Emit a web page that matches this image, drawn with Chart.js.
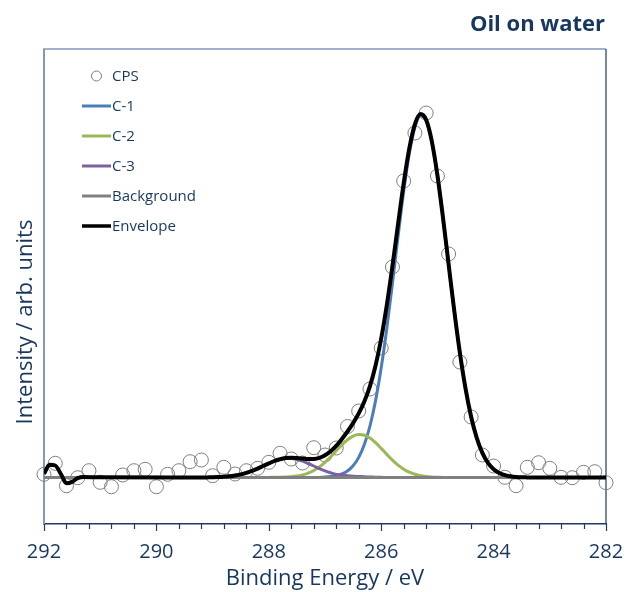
<!DOCTYPE html>
<html><head><meta charset="utf-8">
<script src="https://cdn.jsdelivr.net/npm/chart.js@4.4.1/dist/chart.umd.min.js"></script>
<style>html,body{margin:0;padding:0;background:#fff;} #wrap{width:640px;height:592px;position:relative;}</style>
</head><body><div id="wrap"><canvas id="c" width="640" height="592"></canvas></div>
<script>
const titleText = 'Oil on water';
const xTitle = 'Binding Energy / eV';
const yTitle = 'Intensity / arb. units';
const seriesNames = ['CPS', 'C-1', 'C-2', 'C-3', 'Background', 'Envelope'];
const xTickMajor = [292, 290, 288, 286, 284, 282];

const cpsEnergy = [292.0, 291.8, 291.6, 291.4, 291.2, 291.0, 290.8, 290.6, 290.4, 290.2, 290.0,
  289.8, 289.6, 289.4, 289.2, 289.0, 288.8, 288.6, 288.4, 288.2, 288.0,
  287.8, 287.6, 287.4, 287.2, 287.0, 286.8, 286.6, 286.4, 286.2, 286.0,
  285.8, 285.6, 285.4, 285.2, 285.0, 284.8, 284.6, 284.4, 284.2, 284.0,
  283.8, 283.6, 283.4, 283.2, 283.0, 282.8, 282.6, 282.4, 282.2, 282.0];
const cpsCounts = [497, 607, 383, 463, 533, 417, 373, 490, 533, 547, 373,
  497, 533, 623, 640, 483, 567, 500, 533, 557, 617,
  707, 650, 610, 763, 690, 760, 975, 1130, 1350, 1760,
  2570, 3430, 3910, 4110, 3480, 2700, 1620, 1070, 690, 580,
  467, 383, 567, 613, 557, 467, 463, 517, 523, 413];

const c1Energy = [292.0, 287.3, 287.2, 287.1, 287.0, 286.9, 286.8, 286.7, 286.6, 286.5, 286.4,
  286.3, 286.2, 286.1, 286.0, 285.9, 285.8, 285.7, 285.6, 285.5, 285.4,
  285.3, 285.2, 285.1, 285.0, 284.9, 284.8, 284.7, 284.6, 284.5, 284.4,
  284.3, 284.2, 284.1, 284.0, 283.9, 283.8, 283.7, 283.6, 283.5, 283.4, 283.3, 282.0];
const c1Counts = [465, 465, 465, 466, 469, 474, 483, 500, 530, 582, 666,
  795, 980, 1234, 1562, 1958, 2406, 2876, 3324, 3703, 3967,
  4082, 4032, 3824, 3487, 3061, 2594, 2133, 1712, 1356, 1073,
  861, 711, 611, 548, 510, 488, 477, 470, 467, 466, 465, 465];

const c2Energy = [292.0, 288.1, 288.0, 287.9, 287.8, 287.7, 287.6, 287.5, 287.4, 287.3, 287.2,
  287.1, 287.0, 286.9, 286.8, 286.7, 286.6, 286.5, 286.4, 286.3, 286.2,
  286.1, 286.0, 285.9, 285.8, 285.7, 285.6, 285.5, 285.4, 285.3, 285.2,
  285.1, 285.0, 284.9, 282.0];
const c2Counts = [465, 465, 466, 467, 468, 470, 473, 479, 491, 509, 535,
  571, 617, 672, 732, 791, 842, 879, 895, 888, 859,
  813, 756, 696, 638, 588, 548, 518, 497, 483, 475,
  470, 467, 465, 465];

const c3Energy = [292.0, 289.1, 289.0, 288.9, 288.8, 288.7, 288.6, 288.5, 288.4, 288.3, 288.2,
  288.1, 288.0, 287.9, 287.8, 287.7, 287.6, 287.5, 287.4, 287.3, 287.2,
  287.1, 287.0, 286.9, 286.8, 286.7, 286.6, 286.5, 286.4, 286.3, 286.2,
  286.1, 286.0, 285.9, 282.0];
const c3Counts = [465, 465, 467, 469, 472, 477, 485, 496, 512, 531, 554,
  580, 605, 628, 645, 654, 654, 645, 628, 605, 580,
  554, 531, 512, 496, 489, 483, 478, 475, 472, 470,
  468, 467, 465, 465];

const bgEnergy = [292.0, 282.0];
const bgCounts = [465, 465];

const envEnergy = [292.0, 291.9, 291.8, 291.7, 291.6, 291.5, 291.4, 291.3, 291.0, 289.3,
  289.2, 289.1, 289.0, 288.9, 288.8, 288.7, 288.6, 288.5, 288.4, 288.3,
  288.2, 288.1, 288.0, 287.9, 287.8, 287.7, 287.6, 287.5, 287.4, 287.3,
  287.2, 287.1, 287.0, 286.9, 286.8, 286.7, 286.6, 286.5, 286.4, 286.3,
  286.2, 286.1, 286.0, 285.9, 285.8, 285.7, 285.6, 285.5, 285.4, 285.3,
  285.2, 285.1, 285.0, 284.9, 284.8, 284.7, 284.6, 284.5, 284.4, 284.3,
  284.2, 284.1, 284.0, 283.9, 283.8, 283.7, 283.6, 283.5, 283.4, 283.3, 282.0];
const envCounts = [502, 592, 585, 500, 408, 422, 458, 470, 467, 465,
  465, 466, 467, 469, 472, 477, 485, 496, 512, 531,
  554, 580, 606, 630, 648, 659, 662, 659, 654, 649,
  650, 661, 687, 728, 781, 850, 925, 1009, 1106, 1225,
  1379, 1585, 1855, 2189, 2579, 2999, 3407, 3756, 3999, 4100,
  4042, 3829, 3489, 3061, 2594, 2133, 1712, 1356, 1073, 861,
  711, 611, 548, 510, 488, 477, 470, 467, 466, 465, 465];

const TEXT = '#17375e';
const NAVY = '#1f3864';
const STEEL = '#8299bb';
const FONT = "'Open Sans', 'Noto Sans', sans-serif";
const colors = { cps: '#7f7f7f', c1: '#4a7ebb', c2: '#98b954', c3: '#7d60a0', bg: '#808080', env: '#000000' };

function pts(xs, ys) { return xs.map((x, i) => ({ x: x, y: ys[i] })); }

const lineDs = (label, xs, ys, color, width, order) => ({
  label, data: pts(xs, ys), showLine: true, borderColor: color, backgroundColor: color,
  borderWidth: width, pointRadius: 0, cubicInterpolationMode: 'monotone', order
});

const decor = {
  id: 'decor',
  beforeDatasetsDraw(chart) {
    const ctx = chart.ctx, a = chart.chartArea;
    ctx.save();
    ctx.lineWidth = 2; ctx.strokeStyle = STEEL;
    ctx.beginPath(); ctx.moveTo(a.left, a.bottom); ctx.lineTo(a.left, a.top); ctx.stroke();
    ctx.lineWidth = 1.5;
    ctx.beginPath(); ctx.moveTo(a.left - 1, a.top); ctx.lineTo(a.right, a.top); ctx.stroke();
    ctx.lineWidth = 1.2; ctx.strokeStyle = NAVY;
    ctx.beginPath(); ctx.moveTo(a.right, a.top); ctx.lineTo(a.right, a.bottom); ctx.stroke();
    ctx.restore();
  },
  afterDraw(chart) {
    const ctx = chart.ctx, a = chart.chartArea, sx = chart.scales.x;
    ctx.save();
    // x ticks
    ctx.lineWidth = 1.2; ctx.strokeStyle = NAVY;
    sx.ticks.forEach(t => {
      const px = Math.round(sx.getPixelForValue(t.value)) + 0.5;
      const major = Math.abs(t.value / 2 - Math.round(t.value / 2)) < 1e-6;
      ctx.beginPath(); ctx.moveTo(px, a.bottom); ctx.lineTo(px, a.bottom + (major ? 7 : 5)); ctx.stroke();
    });
    // titles
    ctx.fillStyle = TEXT;
    ctx.font = 'bold 22px ' + FONT; ctx.textAlign = 'right'; ctx.textBaseline = 'alphabetic';
    ctx.fillText(titleText, 605, 31);
    ctx.font = '22px ' + FONT; ctx.textAlign = 'center';
    ctx.fillText(xTitle, (a.left + a.right) / 2, 585);
    ctx.save(); ctx.translate(32, 322); ctx.rotate(-Math.PI / 2);
    ctx.fillText(yTitle, 0, 0); ctx.restore();
    // legend
    const lx = 82, tx = 112, ly0 = 76, step = 30;
    ctx.font = '15px ' + FONT; ctx.textAlign = 'left'; ctx.textBaseline = 'middle';
    const leg = [
      { name: seriesNames[0], type: 'pt', color: colors.cps },
      { name: seriesNames[1], color: colors.c1, w: 3 },
      { name: seriesNames[2], color: colors.c2, w: 3 },
      { name: seriesNames[3], color: colors.c3, w: 3 },
      { name: seriesNames[4], color: colors.bg, w: 3 },
      { name: seriesNames[5], color: colors.env, w: 3.5 }
    ];
    leg.forEach((it, i) => {
      const y = ly0 + i * step;
      if (it.type === 'pt') {
        ctx.lineWidth = 1; ctx.strokeStyle = it.color;
        ctx.beginPath(); ctx.arc(96.5, y, 5, 0, Math.PI * 2); ctx.stroke();
      } else {
        ctx.lineWidth = it.w; ctx.strokeStyle = it.color;
        ctx.beginPath(); ctx.moveTo(lx, y); ctx.lineTo(tx - 1, y); ctx.stroke();
      }
      ctx.fillStyle = TEXT; ctx.fillText(it.name, tx, y + 1);
    });
    ctx.restore();
  }
};

new Chart(document.getElementById('c'), {
  type: 'scatter',
  data: {
    datasets: [
      { label: seriesNames[0], data: pts(cpsEnergy, cpsCounts), showLine: false, pointStyle: 'circle',
        pointRadius: 7, pointBorderWidth: 1, pointBorderColor: colors.cps,
        pointBackgroundColor: 'rgba(255,255,255,0)', order: 5, clip: false },
      lineDs(seriesNames[1], c1Energy, c1Counts, colors.c1, 3, 4),
      lineDs(seriesNames[2], c2Energy, c2Counts, colors.c2, 3, 3),
      lineDs(seriesNames[3], c3Energy, c3Counts, colors.c3, 3, 2),
      lineDs(seriesNames[4], bgEnergy, bgCounts, colors.bg, 3, 1),
      lineDs(seriesNames[5], envEnergy, envCounts, colors.env, 4, 0)
    ]
  },
  options: {
    responsive: false, animation: false, devicePixelRatio: 1,
    layout: { padding: { left: 44, right: 34, top: 49, bottom: 0 } },
    plugins: { legend: { display: false }, tooltip: { enabled: false } },
    scales: {
      x: {
        type: 'linear', reverse: true, min: 282, max: 292,
        afterFit: s => { s.height = 68; },
        grid: { display: false, drawTicks: false },
        border: { display: true, color: NAVY, width: 1.5 },
        ticks: {
          stepSize: 0.4, autoSkip: false, maxRotation: 0, padding: 16, color: TEXT,
          font: { family: FONT, size: 20 },
          callback: v => (xTickMajor.some(m => Math.abs(m - v) < 1e-6) ? String(Math.round(v)) : '')
        }
      },
      y: { display: false, min: 0, max: 4750 }
    }
  },
  plugins: [decor]
});
</script>
</body></html>
